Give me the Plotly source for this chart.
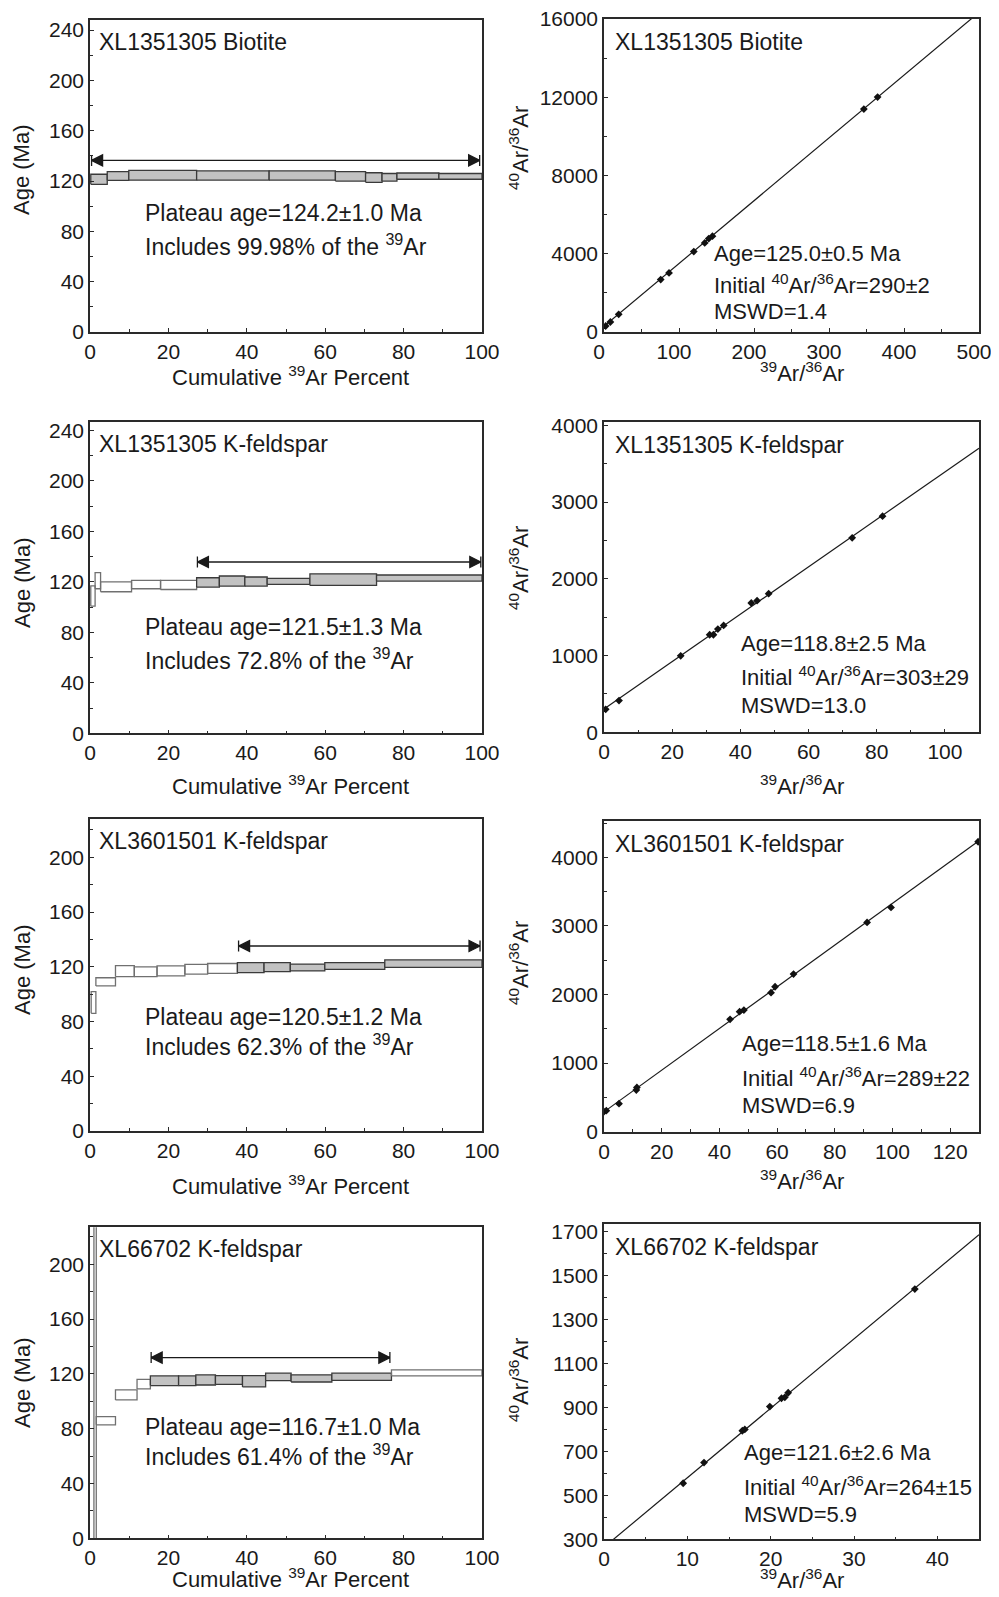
import plotly.graph_objects as go

# the page body has an 8px default margin on every side: the figure is sized
# to fit the 999x1597 window without scrollbars, and page pixels are mapped to it
PAGE_W, PAGE_H = 999, 1597
OFF = 8
W, H = PAGE_W - 2 * OFF, PAGE_H - 2 * OFF
FONT = "Liberation Sans, Arial, sans-serif"

# ---------------- Age spectra data ----------------
bt_label = "XL1351305 Biotite"
bt_edges = [0.2, 4.4, 9.9, 27.2, 45.7, 62.6, 70.3, 74.5, 78.3, 89.0, 100]
bt_age = [121.4, 124.0, 124.6, 124.4, 124.4, 123.7, 122.8, 123.0, 123.9, 123.7]
bt_err = [4.0, 3.4, 3.9, 3.6, 3.6, 3.7, 3.8, 3.0, 2.5, 2.3]
bt_plateau = [1, 1, 1, 1, 1, 1, 1, 1, 1, 1]
bt_arrow = [0.4, 99.4, 136.4]
bt_text = ["Plateau age=124.2±1.0 Ma", "Includes 99.98% of the <sup>39</sup>Ar"]

kf1_label = "XL1351305 K-feldspar"
kf1_edges = [0.2, 1.3, 2.7, 10.6, 18.0, 27.2, 33.0, 39.5, 45.2, 56.1, 73.1, 100]
kf1_age = [108.8, 121.0, 116.1, 117.9, 117.6, 119.6, 120.7, 120.3, 120.4, 121.8, 123.1]
kf1_err = [8.0, 6.4, 3.9, 3.3, 3.6, 3.7, 4.0, 3.6, 2.4, 4.6, 2.4]
kf1_plateau = [0, 0, 0, 0, 0, 1, 1, 1, 1, 1, 1]
kf1_arrow = [27.4, 99.7, 135.8]
kf1_text = ["Plateau age=121.5±1.3 Ma", "Includes 72.8% of the <sup>39</sup>Ar"]

kf2_label = "XL3601501 K-feldspar"
kf2_edges = [0.3, 1.5, 6.5, 11.3, 17.1, 24.2, 30.0, 37.6, 44.4, 51.1, 59.9, 75.2, 100]
kf2_age = [93.9, 109.0, 116.8, 116.4, 117.0, 118.2, 118.8, 119.4, 119.7, 119.5, 120.6, 122.3]
kf2_err = [7.9, 3.0, 4.0, 3.6, 3.6, 3.5, 3.6, 3.7, 3.3, 2.5, 2.5, 2.7]
kf2_plateau = [0, 0, 0, 0, 0, 0, 0, 1, 1, 1, 1, 1]
kf2_arrow = [37.9, 99.5, 135.2]
kf2_text = ["Plateau age=120.5±1.2 Ma", "Includes 62.3% of the <sup>39</sup>Ar"]

kf3_label = "XL66702 K-feldspar"
kf3_edges = [1.0, 1.6, 6.5, 12.0, 15.4, 22.6, 27.0, 32.0, 38.9, 44.8, 51.3, 61.7, 76.9, 100]
kf3_age = [110.0, 85.8, 104.7, 112.5, 115.0, 115.0, 115.6, 115.6, 114.6, 117.8, 116.7, 117.9, 120.7]
kf3_err = [140.0, 3.0, 3.7, 3.5, 3.5, 3.5, 3.7, 3.2, 4.1, 2.7, 2.6, 2.6, 2.2]
kf3_plateau = [0, 0, 0, 0, 1, 1, 1, 1, 1, 1, 1, 1, 0]
kf3_arrow = [15.6, 76.5, 131.9]
kf3_text = ["Plateau age=116.7±1.0 Ma", "Includes 61.4% of the <sup>39</sup>Ar"]

# ---------------- Isochron data ----------------
iso1_x = [2.2, 8.5, 19.6, 75.6, 86.7, 119.7, 134.3, 139.7, 144.6, 346.5, 364.8]
iso1_y = [307, 512, 904, 2678, 3020, 4112, 4555, 4777, 4896, 11396, 12010]
iso1_fit = [290, 32.1]
iso1_text = ["Age=125.0±0.5 Ma", "Initial <sup>40</sup>Ar/<sup>36</sup>Ar=290±2", "MSWD=1.4"]

iso2_x = [0.5, 4.4, 22.5, 31.0, 32.1, 33.4, 35.1, 43.2, 44.9, 48.3, 72.8, 81.7]
iso2_y = [300, 413, 997, 1271, 1271, 1345, 1393, 1685, 1715, 1807, 2534, 2817]
iso2_fit = [303, 30.9]
iso2_text = ["Age=118.8±2.5 Ma", "Initial <sup>40</sup>Ar/<sup>36</sup>Ar=303±29", "MSWD=13.0"]

iso3_x = [0.0, 0.8, 5.2, 11.2, 11.4, 43.7, 47.0, 48.5, 57.9, 59.3, 65.7, 91.2, 99.5, 129.7]
iso3_y = [292, 306, 408, 608, 646, 1638, 1750, 1774, 2027, 2114, 2299, 3052, 3271, 4228]
iso3_fit = [289, 30.4]
iso3_text = ["Age=118.5±1.6 Ma", "Initial <sup>40</sup>Ar/<sup>36</sup>Ar=289±22", "MSWD=6.9"]

iso4_x = [9.5, 12.0, 16.6, 16.9, 19.9, 21.3, 21.7, 22.1, 37.3]
iso4_y = [555, 649, 794, 800, 904, 942, 946, 967, 1439]
iso4_fit = [264, 31.6]
iso4_text = ["Age=121.6±2.6 Ma", "Initial <sup>40</sup>Ar/<sup>36</sup>Ar=264±15", "MSWD=5.9"]

fig = go.Figure()


def px_x(p):
    return (p - OFF) / W


def px_y(p):
    return 1 - (p - OFF) / H


# panel geometry in page pixels: (left, right) and (top, bottom)
L_COL = (90, 482)
R_COL = (604, 979)
rows_left = [(20, 332), (421.7, 733.3), (819, 1131), (1227.3, 1538.3)]
rows_right = [(19, 332), (422.3, 732.3), (820.7, 1131.7), (1224, 1539.3)]

AXCOL = "#2a2a2a"
TXT = 23
annotations = []


def axis_common(dtick, minor_dtick, rng, domain, anchor, tick0=0, shift=0):
    return dict(
        domain=domain, anchor=anchor, range=rng, dtick=dtick, tick0=tick0,
        automargin=False, tickformat="d", ticklabeloverflow="allow",
        ticklabelshift=shift,
        showgrid=False, zeroline=False, showline=True, linecolor=AXCOL, linewidth=1.5,
        mirror=True, ticks="inside", ticklen=4, tickwidth=1.2, tickcolor=AXCOL,
        minor=dict(ticks="inside", dtick=minor_dtick, ticklen=3, tickwidth=1.2,
                   tickcolor=AXCOL, showgrid=False),
        tickfont=dict(family=FONT, size=21, color="#1a1a1a"),
    )


def add_ann(text, x, y, size=TXT, xanchor="left", angle=0):
    annotations.append(dict(text=text, x=px_x(x), y=px_y(y), xref="paper", yref="paper",
                            xanchor=xanchor, yanchor="middle", showarrow=False,
                            textangle=angle,
                            font=dict(family=FONT, size=size, color="#1a1a1a")))


def spectrum(idx, edges, ages, errs, plateau, arrow, yr, row, label, texts, ymid_title,
             xt_y, text_y):
    xa = "x" if idx == 1 else f"x{idx}"
    ya = "y" if idx == 1 else f"y{idx}"
    for i in range(len(ages)):
        a, b = edges[i], edges[i + 1]
        lo, hi = ages[i] - errs[i], ages[i] + errs[i]
        filled = plateau[i] == 1
        fig.add_trace(go.Scatter(
            x=[a, b, b, a, a], y=[lo, lo, hi, hi, lo], mode="lines", fill="toself",
            fillcolor="#c2c2c2" if filled else "rgba(255,255,255,0)",
            line=dict(color="#3a3a3a" if filled else "#707070", width=1.3),
            xaxis=xa, yaxis=ya, showlegend=False, hoverinfo="skip"))
    fig.add_trace(go.Scatter(
        x=[arrow[0], arrow[1]], y=[arrow[2], arrow[2]], mode="lines+markers",
        line=dict(color="#1a1a1a", width=1.3),
        marker=dict(symbol=["arrow-bar-left", "arrow-bar-right"], size=11,
                    color="#1a1a1a", line=dict(color="#1a1a1a", width=1.3)),
        xaxis=xa, yaxis=ya, showlegend=False, hoverinfo="skip"))
    top, bot = rows_left[row]
    dom_y = [px_y(bot), px_y(top)]
    dom_x = [px_x(L_COL[0]), px_x(L_COL[1])]
    fig.layout[("xaxis" if idx == 1 else f"xaxis{idx}")] = axis_common(20, 10, [0, 100], dom_x, ya)
    fig.layout[("yaxis" if idx == 1 else f"yaxis{idx}")] = axis_common(40, 20, yr, dom_y, xa)
    add_ann(label, 97, top + 22)
    add_ann(texts[0], 143, text_y[0])
    add_ann(texts[1], 143, text_y[1])
    add_ann("Age (Ma)", 22, ymid_title, size=22, angle=-90, xanchor="center")
    add_ann("Cumulative <sup>39</sup>Ar Percent", 290, xt_y, size=22, xanchor="center")


def isochron(idx, xs, ys, fit, xr, yr, xd, yd, row, label, texts, tx, ty, ymid_title, xt_y,
             tick0y=0, xshift=0):
    xa = f"x{idx}"
    ya = f"y{idx}"
    fig.add_trace(go.Scatter(
        x=[0, xr[1]], y=[fit[0], fit[0] + fit[1] * xr[1]], mode="lines",
        line=dict(color="#1a1a1a", width=1.2), xaxis=xa, yaxis=ya,
        showlegend=False, hoverinfo="skip"))
    fig.add_trace(go.Scatter(
        x=xs, y=ys, mode="markers",
        marker=dict(symbol="diamond", size=6, color="#111111"),
        xaxis=xa, yaxis=ya, showlegend=False, hoverinfo="skip"))
    top, bot = rows_right[row]
    dom_y = [px_y(bot), px_y(top)]
    dom_x = [px_x(R_COL[0]), px_x(R_COL[1])]
    fig.layout[f"xaxis{idx}"] = axis_common(xd[0], xd[1], xr, dom_x, ya, shift=xshift)
    fig.layout[f"yaxis{idx}"] = axis_common(yd[0], yd[1], yr, dom_y, xa, tick0=tick0y)
    add_ann(label, 613, top + 23)
    for t, yy in zip(texts, ty):
        add_ann(t, tx, yy, size=22)
    add_ann("<sup>40</sup>Ar/<sup>36</sup>Ar", 519, ymid_title, size=22, angle=-90,
            xanchor="center")
    add_ann("<sup>39</sup>Ar/<sup>36</sup>Ar", 802, xt_y, size=22, xanchor="center")


spectrum(1, bt_edges, bt_age, bt_err, bt_plateau, bt_arrow, [0, 248], 0, bt_label, bt_text,
         170, 376, [213, 245])
isochron(2, iso1_x, iso1_y, iso1_fit, [0, 500], [0, 16000], (100, 50), (4000, 2000), 0,
         bt_label, iso1_text, 712, [253, 284, 312], 148, 372, xshift=-5)

spectrum(3, kf1_edges, kf1_age, kf1_err, kf1_plateau, kf1_arrow, [0, 247], 1, kf1_label,
         kf1_text, 583, 785, [627, 659])
isochron(4, iso2_x, iso2_y, iso2_fit, [0, 110], [0, 4040], (20, 10), (1000, 500), 1,
         kf1_label, iso2_text, 739, [643, 676, 705], 568, 785)

spectrum(5, kf2_edges, kf2_age, kf2_err, kf2_plateau, kf2_arrow, [0, 228], 2, kf2_label,
         kf2_text, 970, 1185, [1017, 1045])
isochron(6, iso3_x, iso3_y, iso3_fit, [0, 130], [0, 4535], (20, 10), (1000, 500), 2,
         kf2_label, iso3_text, 740, [1043, 1077, 1105], 963, 1180)

spectrum(7, kf3_edges, kf3_age, kf3_err, kf3_plateau, kf3_arrow, [0, 227], 3, kf3_label,
         kf3_text, 1383, 1578, [1427, 1455])
isochron(8, iso4_x, iso4_y, iso4_fit, [0, 45], [300, 1735], (10, 5), (200, 100), 3,
         kf3_label, iso4_text, 742, [1452, 1486, 1514], 1380, 1579, tick0y=300)

fig.update_layout(
    width=W, height=H, margin=dict(l=0, r=0, t=0, b=0),
    paper_bgcolor="white", plot_bgcolor="white",
    annotations=annotations, showlegend=False,
    font=dict(family=FONT, color="#1a1a1a"),
)

fig.write_html("out.html")
